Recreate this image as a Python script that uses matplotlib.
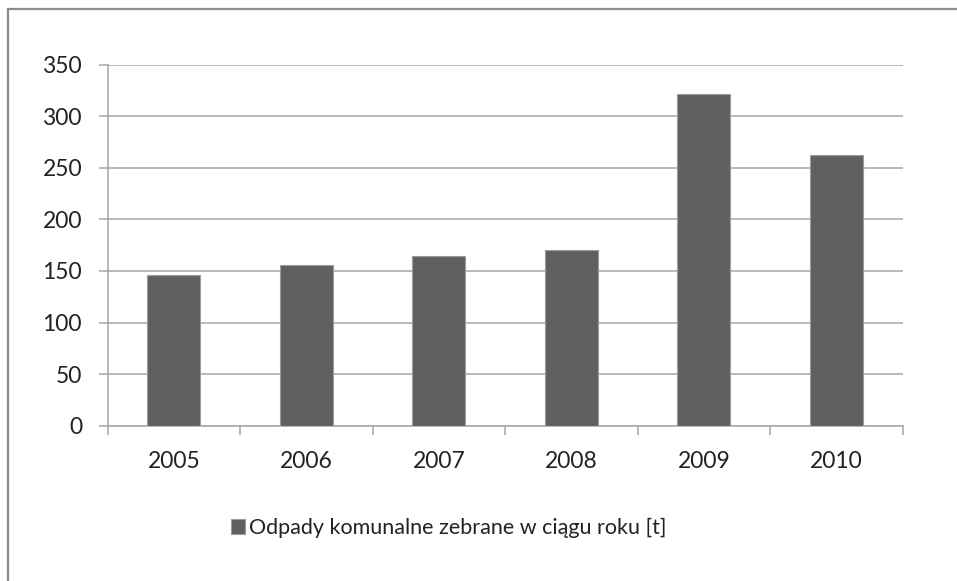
import matplotlib
matplotlib.use("Agg")
import matplotlib.pyplot as plt
from matplotlib.patches import Rectangle
import numpy as np

# Municipal waste collected per year [t]
years = ["2005", "2006", "2007", "2008", "2009", "2010"]
waste = [146, 156, 165, 170, 322, 262]
series_label = "Odpady komunalne zebrane w ciągu roku [t]"
y_ticks = [0, 50, 100, 150, 200, 250, 300, 350]

plt.rcParams["font.family"] = ["Lato", "DejaVu Sans"]

W, H = 957, 581
fig = plt.figure(figsize=(W / 100, H / 100), dpi=100, facecolor="white")
ax = fig.add_axes([107.7 / W, 1 - 425.7 / H, 795 / W, 361 / H])

grid_col = "#a6a6a6"
x = np.arange(len(years))
ax.bar(x, waste, width=0.4, color="#606060", edgecolor="#9c9c9c",
       linewidth=0.8, label=series_label, zorder=3)

ax.set_xlim(-0.5, len(years) - 0.5)
ax.set_ylim(0, 350)
ax.set_yticks(y_ticks)
ax.yaxis.grid(True, color=grid_col, linewidth=1.1, zorder=0)

# category labels between boundary ticks
ax.set_xticks(x)
ax.set_xticklabels(years)
ax.set_xticks(np.arange(len(years) + 1) - 0.5, minor=True)
ax.tick_params(axis="x", which="major", length=0, pad=18, labelsize=16.5,
               labelcolor="#222222")
ax.tick_params(axis="x", which="minor", length=6.5, width=1.1,
               color=grid_col, direction="out")
ax.tick_params(axis="y", length=6.5, width=1.1, color=grid_col,
               pad=12, labelsize=16.5, labelcolor="#222222")

for side in ("top", "right"):
    ax.spines[side].set_visible(False)
for side in ("left", "bottom"):
    ax.spines[side].set_color(grid_col)
    ax.spines[side].set_linewidth(1.1)

fig.legend(loc="center", bbox_to_anchor=(448.5 / W, 1 - 528 / H),
           frameon=False, fontsize=15.5, handlelength=0.65, handleheight=0.65,
           handletextpad=0.2, labelcolor="#222222")

# outer chart border (left and top edges visible)
fig.patches.append(Rectangle((8 / W, -0.2), 1.2, 1.2 - 9 / H,
                             transform=fig.transFigure, fill=False,
                             edgecolor="#8c8c8c", linewidth=1.6))

fig.savefig("out.png", dpi=100, facecolor="white")
